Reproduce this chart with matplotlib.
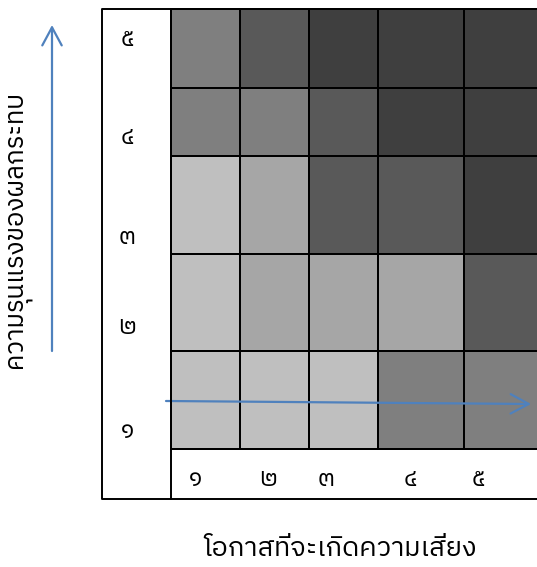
import matplotlib
matplotlib.use("Agg")
import matplotlib.pyplot as plt
import numpy as np
from matplotlib import font_manager
from matplotlib.ft2font import FT2Font
from matplotlib.patches import FancyArrowPatch

# Risk matrix: shade (percent black) per cell, top row = impact 5
shade = [
    [50, 65, 75, 75, 75],
    [50, 50, 65, 75, 75],
    [25, 35, 65, 65, 75],
    [25, 35, 35, 35, 65],
    [25, 25, 25, 50, 50],
]
impact_labels = ["๕", "๔", "๓", "๒", "๑"]
chance_labels = ["๑", "๒", "๓", "๔", "๕"]
x_title = "โอกาสที่จะเกิดความเสี่ยง"
y_title = "ความรุนแรงของผลกระทบ"


def thai_fonts():
    found = []
    for entry in font_manager.fontManager.ttflist:
        try:
            if 0x0E01 in FT2Font(entry.fname).get_charmap():
                found.append(entry.name)
        except Exception:
            continue
    return sorted(set(found))


def main() -> None:
    fams = thai_fonts()
    fam = [f for f in fams if "Sans" in f] or fams or ["DejaVu Sans"]
    plt.rcParams["font.family"] = [fam[0], "DejaVu Sans"]

    fig = plt.figure(figsize=(5.37, 5.67), dpi=100)
    ax = fig.add_axes([0, 0, 1, 1])
    ax.set_xlim(0, 537)
    ax.set_ylim(567, 0)
    ax.axis("off")

    # table geometry (pixels, like the Word table it came from)
    col_edges = [170.5, 240, 309, 378, 464, 545]
    row_edges = [9, 88, 156, 254, 351, 449]
    ax.pcolormesh(col_edges, row_edges, np.array(shade), cmap="gray_r",
                  vmin=0, vmax=100, edgecolors="black", linewidth=1.4)

    # outer frame and merged label cells
    ax.plot([545, 102, 102, 545], [9, 9, 499, 499], color="black", lw=1.4)
    ax.plot([170.5, 170.5], [9, 499], color="black", lw=1.4)
    ax.plot([170.5, 545], [449, 449], color="black", lw=1.4)

    for lab, y in zip(impact_labels, [40, 137, 237, 328, 430]):
        ax.text(127, y, lab, fontsize=17, ha="center", va="center")
    for lab, x in zip(chance_labels, [196, 268, 326, 410, 478]):
        ax.text(x, 479, lab, fontsize=17, ha="center", va="center")

    ax.text(340, 548, x_title, fontsize=19.5, ha="center", va="center")
    ax.text(19, 230, y_title, fontsize=18.5, ha="center", va="center",
            rotation=90)

    blue = "#4F81BD"
    style = "->,head_length=13,head_width=7"
    ax.add_patch(FancyArrowPatch((52, 351), (52, 25), arrowstyle=style,
                                 mutation_scale=1, color=blue, lw=1.6,
                                 shrinkA=0, shrinkB=0))
    ax.add_patch(FancyArrowPatch((166, 401), (531, 404), arrowstyle=style,
                                 mutation_scale=1, color=blue, lw=1.6,
                                 shrinkA=0, shrinkB=0))

    fig.savefig("out.png", dpi=100)


if __name__ == "__main__":
    main()
